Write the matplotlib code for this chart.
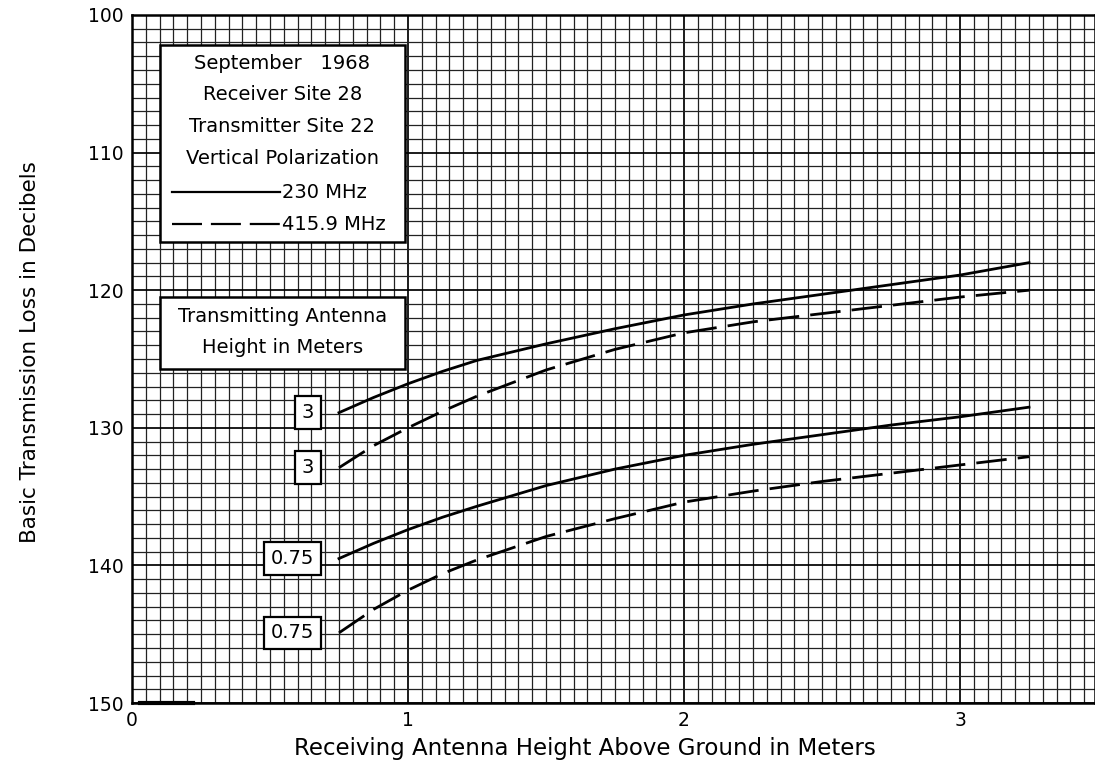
import numpy as np
import matplotlib
matplotlib.use('Agg')
import matplotlib.pyplot as plt
from matplotlib.patches import Rectangle
from matplotlib.ticker import MultipleLocator

# receiving antenna height (m)
heights = [0.75, 0.875, 1.0, 1.125, 1.25, 1.5, 1.75, 2.0, 2.25, 2.5, 2.75, 3.0, 3.25]

# basic transmission loss (dB)
loss_230_tx3 = [128.9, 127.8, 126.8, 125.9, 125.1, 123.9, 122.8, 121.8, 121.0,
                120.3, 119.6, 118.9, 118.0]
loss_416_tx3 = [132.9, 131.3, 130.0, 128.8, 127.7, 125.8, 124.3, 123.1, 122.3,
                121.7, 121.1, 120.5, 120.0]
loss_230_tx075 = [139.5, 138.4, 137.4, 136.5, 135.7, 134.2, 133.0, 132.0, 131.2,
                  130.5, 129.8, 129.2, 128.5]
loss_416_tx075 = [144.9, 143.2, 141.8, 140.6, 139.6, 137.9, 136.6, 135.4, 134.6,
                  133.9, 133.3, 132.7, 132.1]

curve_labels = ['3', '3', '0.75', '0.75']

xticks = [0, 1, 2, 3]
yticks = [100, 110, 120, 130, 140, 150]

info_lines = ['September   1968', 'Receiver Site 28', 'Transmitter Site 22',
              'Vertical Polarization']
freq_labels = ['230 MHz', '415.9 MHz']
tx_title = ['Transmitting Antenna', 'Height in Meters']

FONT = 'DejaVu Sans'
DASH = (0, (11, 4))

fig = plt.figure(figsize=(10.95, 7.68), dpi=100)
ax = fig.add_axes([0.1205, 0.0846, 0.8795, 0.8959])
ax.set_xlim(0, 3.489)
ax.set_ylim(150, 100)

# graph paper
ax.xaxis.set_major_locator(MultipleLocator(0.5))
ax.xaxis.set_minor_locator(MultipleLocator(0.05))
ax.yaxis.set_major_locator(MultipleLocator(5))
ax.yaxis.set_minor_locator(MultipleLocator(1))
ax.grid(which='minor', color='#222222', lw=0.9)
ax.grid(which='major', color='black', lw=1.25)
ax.set_axisbelow(True)
for s in ax.spines.values():
    s.set_linewidth(1.8)

ax.set_xticks(xticks)
ax.set_xticklabels([str(t) for t in xticks], fontsize=13.5, family=FONT)
ax.set_yticks(yticks)
ax.set_yticklabels([str(t) for t in yticks], fontsize=13.5, family=FONT)
ax.tick_params(which='both', length=0, pad=6)

ax.set_xlabel('Receiving Antenna Height Above Ground in Meters', fontsize=16.5,
              family=FONT)
ax.set_ylabel('Basic Transmission Loss in Decibels', fontsize=15.5,
              family=FONT)
ax.xaxis.set_label_coords(0.47, -0.05)
ax.yaxis.set_label_coords(-0.095, 0.51)

# short heavy mark on the baseline
ax.plot([0.03, 0.22], [150, 150], color='black', lw=3, clip_on=False, zorder=6)

series = [(loss_230_tx3, '-'), (loss_416_tx3, DASH),
          (loss_230_tx075, '-'), (loss_416_tx075, DASH)]
for (vals, ls), lab in zip(series, curve_labels):
    ax.plot(heights, vals, color='black', lw=2.0, ls=ls, zorder=5)
    ax.text(heights[0] - 0.09, vals[0], lab, fontsize=14, family=FONT,
            ha='right', va='center', zorder=6,
            bbox=dict(boxstyle='square,pad=0.35', fc='white', ec='black', lw=1.6))

# info box
ax.add_patch(Rectangle((0.10, 102.2), 0.89, 14.3, fc='white', ec='black',
                       lw=1.8, zorder=7))
for i, line in enumerate(info_lines):
    ax.text(0.545, 103.5 + i * 2.3, line, fontsize=14, family=FONT,
            ha='center', va='center', zorder=8)
for i, (lab, ls) in enumerate(zip(freq_labels, ['-', (0, (13.5, 4))])):
    yy = 112.9 + i * 2.3
    ax.plot([0.145, 0.536], [yy, yy], color='black', lw=1.6, ls=ls, zorder=8)
    ax.text(0.545, yy, lab, fontsize=14, family=FONT, ha='left', va='center',
            zorder=8)

# transmitting antenna box
ax.add_patch(Rectangle((0.10, 120.5), 0.89, 5.2, fc='white', ec='black',
                       lw=1.8, zorder=7))
for i, line in enumerate(tx_title):
    ax.text(0.545, 121.9 + i * 2.3, line, fontsize=14, family=FONT,
            ha='center', va='center', zorder=8)

plt.savefig('out.png', dpi=100)
plt.close()
